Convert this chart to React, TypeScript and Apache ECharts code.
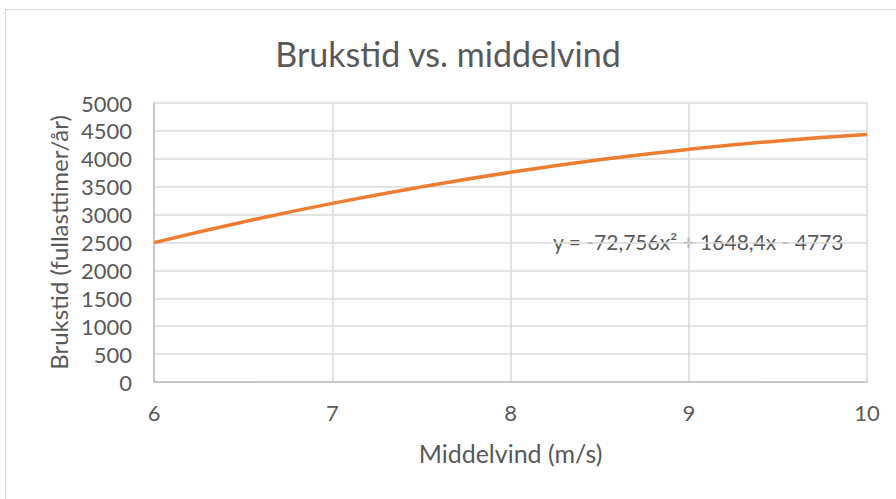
import React, { useEffect, useRef } from "react";
import * as echarts from "echarts";

const windSpeeds = [6, 6.5, 7, 7.5, 8, 8.5, 9, 9.5, 10];
const hours = [2498, 2868, 3201, 3497, 3758, 3982, 4169, 4321, 4435];
const xTicks = { min: 6, max: 10, interval: 1 };
const yTicks = { min: 0, max: 5000, interval: 500 };
const titleText = "Brukstid vs. middelvind";
const xName = "Middelvind (m/s)";
const yName = "Brukstid (fullasttimer/år)";
const trendText = "y = -72,756x² + 1648,4x - 4773";

export default function App() {
  const ref = useRef<HTMLDivElement>(null);
  useEffect(() => {
    if (!ref.current) return;
    const chart = echarts.init(ref.current, null, { renderer: "svg" });
    const font = "Lato, 'Open Sans', sans-serif";
    const text = "#595959";
    chart.setOption({
      animation: false,
      backgroundColor: "#ffffff",
      textStyle: { fontFamily: font },
      title: {
        text: titleText,
        left: "center",
        top: 31,
        textStyle: { fontFamily: font, fontSize: 34, fontWeight: "normal", color: text },
      },
      grid: { left: 154, right: 29, top: 103, bottom: 117 },
      xAxis: {
        type: "value",
        min: xTicks.min,
        max: xTicks.max,
        interval: xTicks.interval,
        name: xName,
        nameLocation: "middle",
        nameGap: 58,
        nameTextStyle: { fontFamily: font, fontSize: 25, color: text },
        axisLine: { show: true, lineStyle: { color: "#BFBFBF", width: 1.5 } },
        axisTick: { show: false },
        axisLabel: { fontFamily: font, fontSize: 22, color: text, margin: 19 },
        splitLine: { show: true, lineStyle: { color: "#D9D9D9", width: 1.5 } },
      },
      yAxis: {
        type: "value",
        min: yTicks.min,
        max: yTicks.max,
        interval: yTicks.interval,
        name: yName,
        nameLocation: "middle",
        nameGap: 80,
        nameTextStyle: { fontFamily: font, fontSize: 24, color: text },
        axisLine: { show: true, lineStyle: { color: "#BFBFBF", width: 1.5 } },
        axisTick: { show: false },
        axisLabel: {
          fontFamily: font,
          fontSize: 22,
          color: text,
          margin: 22,
          formatter: (v: number) => String(v),
        },
        splitLine: { show: true, lineStyle: { color: "#D9D9D9", width: 1.5 } },
      },
      graphic: [
        {
          type: "rect",
          shape: { x: 5.5, y: 9.5, width: 900, height: 500 },
          style: { fill: "none", stroke: "#D9D9D9", lineWidth: 1 },
          silent: true,
          z: -10,
        },
        {
          type: "text",
          left: 553,
          top: 231,
          style: { text: trendText, fill: text, fontFamily: font, fontSize: 21 },
        },
      ],
      series: [
        {
          type: "line",
          data: windSpeeds.map((x, i) => [x, hours[i]]),
          smooth: true,
          showSymbol: false,
          lineStyle: { color: "#ED7D31", width: 3.5 },
          itemStyle: { color: "#ED7D31" },
        },
      ],
    });
    return () => chart.dispose();
  }, []);
  return (
    <div
      ref={ref}
      style={{ position: "fixed", left: 0, top: 0, width: 896, height: 499 }}
    />
  );
}
